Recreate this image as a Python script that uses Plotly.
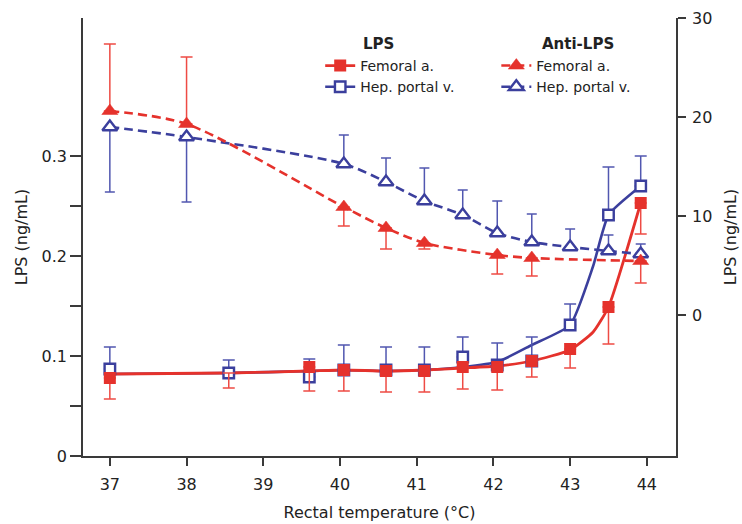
import plotly.graph_objects as go

# ---------------- data ----------------
# LPS group (squares, solid lines)
sq_x = [37.0, 38.55, 39.6, 40.05, 40.6, 41.1, 41.6, 42.05, 42.5, 43.0, 43.5, 43.92]
lps_fem = [0.078, 0.083, 0.089, 0.086, 0.085, 0.085, 0.089, 0.089, 0.095, 0.107, 0.149, 0.253]
lps_fem_low = [0.057, 0.068, 0.065, 0.065, 0.064, 0.064, 0.067, 0.066, 0.079, 0.088, 0.112, 0.222]
lps_hep = [0.087, 0.083, 0.079, 0.086, 0.086, 0.086, 0.099, 0.091, 0.095, 0.131, 0.241, 0.270]
lps_hep_high = [0.109, 0.096, 0.097, 0.111, 0.109, 0.109, 0.119, 0.113, 0.119, 0.152, 0.289, 0.300]

# fitted curves drawn through the LPS groups
fit_x = [37.0, 38.55, 39.6, 40.05, 40.6, 41.1, 41.6, 42.05, 42.5, 43.0, 43.3, 43.5, 43.92]
lps_fem_fit = [0.082, 0.083, 0.085, 0.086, 0.085, 0.086, 0.088, 0.090, 0.095, 0.106, 0.124, 0.149, 0.253]
lps_hep_fit = [0.082, 0.083, 0.085, 0.086, 0.085, 0.086, 0.089, 0.094, 0.111, 0.131, 0.190, 0.241, 0.270]

# Anti-LPS group (triangles, dashed lines)
anti_fem_x = [37.0, 38.0, 40.05, 40.6, 41.1, 42.05, 42.5, 43.92]
anti_fem = [0.345, 0.332, 0.249, 0.228, 0.213, 0.201, 0.198, 0.195]
anti_fem_err_up = [0.067, 0.067, 0, 0, 0, 0, 0, 0]
anti_fem_err_dn = [0, 0, 0.019, 0.021, 0.006, 0.019, 0.018, 0.022]

anti_hep_x = [37.0, 38.0, 40.05, 40.6, 41.1, 41.6, 42.05, 42.5, 43.0, 43.5, 43.92]
anti_hep = [0.329, 0.319, 0.292, 0.274, 0.255, 0.241, 0.223, 0.214, 0.209, 0.205, 0.202]
anti_hep_err_up = [0, 0, 0.029, 0.024, 0.033, 0.025, 0.032, 0.028, 0.018, 0.016, 0.010]
anti_hep_err_dn = [0.065, 0.065, 0, 0, 0, 0, 0, 0, 0, 0, 0]

x_ticks = [37, 38, 39, 40, 41, 42, 43, 44]
yl_ticks = [0, 0.05, 0.1, 0.15, 0.2, 0.25, 0.3]
yl_text = ["0", "", "0.1", "", "0.2", "", "0.3"]
yr_ticks = [0, 10, 20, 30]

RED = "#e5322c"
BLUE = "#3b3f9d"
RED_E = "#ee4b44"
BLUE_E = "#5157b0"
AX = "#3a3a3a"
FONT = "DejaVu Sans"

sq_red_marker = dict(symbol="square", size=12, color=RED)
sq_blue_marker = dict(symbol="square", size=10.5, color="white", line=dict(color=BLUE, width=2.4))
tri_red_marker = dict(symbol="triangle-up", size=14, color=RED, line=dict(color=RED, width=0.5))
tri_blue_marker = dict(symbol="triangle-up", size=13, color="white", line=dict(color=BLUE, width=2.4))
dash_red = dict(color=RED, width=2.6, dash="9px,5px", shape="spline", smoothing=0.8)
dash_blue = dict(color=BLUE, width=2.6, dash="9px,5px", shape="spline", smoothing=0.8)
solid_red = dict(color=RED, width=2.8, shape="spline", smoothing=0.5)
solid_blue = dict(color=BLUE, width=2.6, shape="spline", smoothing=0.5)

fig = go.Figure()

# ---- solid fitted curves (under markers) ----
fig.add_trace(go.Scatter(x=fit_x, y=lps_hep_fit, mode="lines", line=solid_blue,
                         showlegend=False, hoverinfo="skip"))
fig.add_trace(go.Scatter(x=fit_x, y=lps_fem_fit, mode="lines", line=solid_red,
                         showlegend=False, hoverinfo="skip"))

# ---- Anti-LPS ----
fig.add_trace(go.Scatter(
    x=anti_hep_x, y=anti_hep, mode="lines+markers", name="Hep. portal v.",
    legend="legend2", legendrank=2, line=dash_blue, marker=tri_blue_marker,
    error_y=dict(type="data", symmetric=False, array=anti_hep_err_up, arrayminus=anti_hep_err_dn,
                 color=BLUE_E, thickness=1.5, width=5),
))
fig.add_trace(go.Scatter(
    x=anti_fem_x, y=anti_fem, mode="lines+markers", name="Femoral a.",
    legend="legend2", legendrank=1, line=dash_red, marker=tri_red_marker,
    error_y=dict(type="data", symmetric=False, array=anti_fem_err_up, arrayminus=anti_fem_err_dn,
                 color=RED_E, thickness=1.5, width=6),
))

# ---- LPS markers ----
hep_up = [h - v for h, v in zip(lps_hep_high, lps_hep)]
fig.add_trace(go.Scatter(
    x=sq_x, y=lps_hep, mode="markers", name="Hep. portal v.", showlegend=False,
    marker=sq_blue_marker,
    error_y=dict(type="data", symmetric=False, array=hep_up, arrayminus=[0] * len(sq_x),
                 color=BLUE_E, thickness=1.5, width=6),
))
fem_dn = [v - l for v, l in zip(lps_fem, lps_fem_low)]
fig.add_trace(go.Scatter(
    x=sq_x, y=lps_fem, mode="markers", name="Femoral a.", showlegend=False,
    marker=dict(sq_red_marker, opacity=[1, 0, 1, 1, 1, 1, 1, 1, 1, 1, 1, 1]),
    error_y=dict(type="data", symmetric=False, array=[0] * len(sq_x), arrayminus=fem_dn,
                 color=RED_E, thickness=1.5, width=6),
))

# ---- legend entries for LPS group (no points; they also carry the right axis) ----
fig.add_trace(go.Scatter(x=[None], y=[None], yaxis="y2", mode="lines+markers", name="Femoral a.",
                         legend="legend", legendrank=1, line=solid_red, marker=sq_red_marker))
fig.add_trace(go.Scatter(x=[None], y=[None], yaxis="y2", mode="lines+markers", name="Hep. portal v.",
                         legend="legend", legendrank=2, line=solid_blue, marker=sq_blue_marker))

axis_font = dict(family=FONT, size=16, color="#222")
title_font = dict(family=FONT, size=16, color="#222")

fig.update_layout(
    width=742, height=524,
    margin=dict(l=83, r=66, t=18, b=68),
    paper_bgcolor="white", plot_bgcolor="white",
    font=dict(family=FONT, size=16, color="#222"),
    xaxis=dict(range=[36.65, 44.38], tickvals=x_ticks, ticks="outside", ticklen=8,
               tickwidth=1.5, tickcolor=AX, showline=True, linecolor=AX, linewidth=1.6,
               showgrid=False, zeroline=False, tickfont=axis_font, ticklabelstandoff=5,
               automargin=False,
               title=dict(text="Rectal temperature (°C)", font=title_font, standoff=14)),
    yaxis=dict(range=[0, 0.438], tickvals=yl_ticks, ticktext=yl_text, ticks="outside",
               ticklen=11, tickwidth=1.5, tickcolor=AX, showline=True, linecolor=AX,
               linewidth=1.6, showgrid=False, zeroline=False, tickfont=axis_font,
               automargin=False,
               title=dict(text="LPS (ng/mL)", font=title_font, standoff=10)),
    yaxis2=dict(overlaying="y", side="right", anchor="x", range=[-14.24, 30], tickvals=yr_ticks,
                ticks="outside", ticklen=8, tickwidth=1.5, tickcolor=AX, showline=True,
                linecolor=AX, linewidth=1.6, showgrid=False, zeroline=False, tickfont=axis_font,
                ticklabelstandoff=3, automargin=False,
                title=dict(text="LPS (ng/mL)", font=title_font, standoff=13)),
    legend=dict(x=0.40, y=0.927, xanchor="left", yanchor="top", bgcolor="rgba(0,0,0,0)",
                font=dict(family=FONT, size=14, color="#222"), tracegroupgap=0,
                itemwidth=30),
    legend2=dict(x=0.697, y=0.927, xanchor="left", yanchor="top", bgcolor="rgba(0,0,0,0)",
                 font=dict(family=FONT, size=14, color="#222"), tracegroupgap=0,
                 itemwidth=30),
    annotations=[
        dict(text="<b>LPS</b>", x=0.469, y=0.941, xref="paper", yref="paper",
             xanchor="left", yanchor="middle", showarrow=False,
             font=dict(family=FONT, size=15, color="#222")),
        dict(text="<b>Anti-LPS</b>", x=0.771, y=0.941, xref="paper", yref="paper",
             xanchor="left", yanchor="middle", showarrow=False,
             font=dict(family=FONT, size=15, color="#222")),
    ],
)

fig.write_html("out.html")
